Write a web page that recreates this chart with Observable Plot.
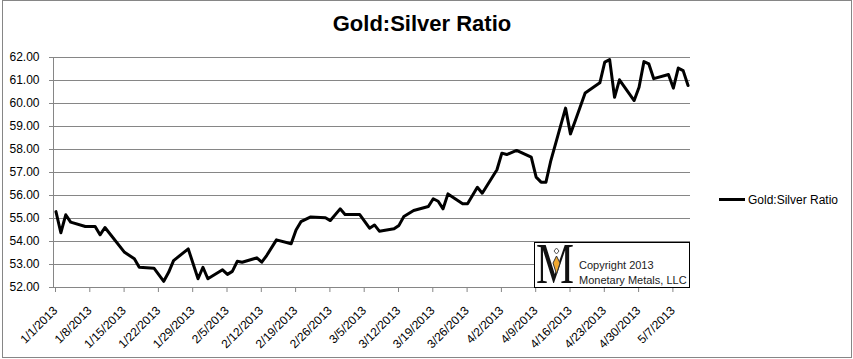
<!DOCTYPE html>
<html><head><meta charset="utf-8">
<script src="https://cdn.jsdelivr.net/npm/d3@7"></script>
<script src="https://cdn.jsdelivr.net/npm/@observablehq/plot@0.6"></script>
<style>
html,body{margin:0;padding:0;background:#fff;}
#wrap{position:relative;width:853px;height:359px;overflow:hidden;font-family:"Liberation Sans",Arial,sans-serif;color:#000;}
#frame{position:absolute;left:2px;top:0;width:850px;height:358px;border:1px solid #868686;box-sizing:border-box;}
#title{position:absolute;left:0;top:11px;width:844px;text-align:center;font-weight:bold;font-size:22px;}
#plot{position:absolute;left:0;top:0;}
#legline{position:absolute;left:719px;top:198px;width:26px;height:3px;background:#000;}
#legtext{position:absolute;left:748px;top:192px;font-size:12px;line-height:16px;}
#copy{position:absolute;left:534px;top:242px;width:156px;height:46px;border:1px solid #000;background:#fff;box-sizing:border-box;overflow:visible;}
</style></head>
<body>
<div id="wrap">
  <div id="frame"></div>
  <div id="plot"></div>
  <div id="title">Gold:Silver Ratio</div>
  <div id="legline"></div>
  <div id="legtext">Gold:Silver Ratio</div>
  <div id="copy">
    <svg width="154" height="44" style="position:absolute;left:0;top:0;overflow:visible">
      <text transform="translate(1,40) scale(0.95,1.25)" font-family="Liberation Serif" font-size="45" fill="#111">M</text>
      <polygon points="21.5,5 24,8 21.5,11 19,8" fill="#fff" stroke="#555" stroke-width="1"/>
      <polygon points="21.5,13 25,20 21.5,31 18,20" fill="#f0a830" stroke="#333" stroke-width="1"/>
      <text x="44" y="26" font-family="Liberation Sans" font-size="11" fill="#222">Copyright 2013</text>
      <text x="44" y="41" font-family="Liberation Sans" font-size="11" fill="#222">Monetary Metals, LLC</text>
    </svg>
  </div>
</div>
<script>
const dates = ["2013-01-01","2013-01-02","2013-01-03","2013-01-04","2013-01-07","2013-01-09","2013-01-10","2013-01-11",
"2013-01-15","2013-01-17","2013-01-18","2013-01-21","2013-01-23","2013-01-24","2013-01-25","2013-01-28","2013-01-30",
"2013-01-31","2013-02-01","2013-02-04","2013-02-05","2013-02-06","2013-02-07","2013-02-08","2013-02-11","2013-02-12",
"2013-02-13","2013-02-15","2013-02-18","2013-02-19","2013-02-20","2013-02-22","2013-02-25","2013-02-26","2013-02-28",
"2013-03-01","2013-03-04","2013-03-06","2013-03-07","2013-03-08","2013-03-11","2013-03-12","2013-03-13","2013-03-15",
"2013-03-18","2013-03-19","2013-03-20","2013-03-21","2013-03-22","2013-03-25","2013-03-26","2013-03-28","2013-03-29",
"2013-04-01","2013-04-02","2013-04-03","2013-04-05","2013-04-08","2013-04-09","2013-04-10","2013-04-11","2013-04-12",
"2013-04-15","2013-04-16","2013-04-17","2013-04-19","2013-04-22","2013-04-23","2013-04-24","2013-04-25","2013-04-26",
"2013-04-29","2013-04-30","2013-05-01","2013-05-02","2013-05-03","2013-05-06","2013-05-07","2013-05-08","2013-05-09","2013-05-10"];
const ratios = [55.30,54.38,55.16,54.84,54.65,54.65,54.29,54.61,
53.53,53.25,52.88,52.84,52.27,52.66,53.17,53.68,52.38,
52.88,52.38,52.77,52.57,52.70,53.14,53.10,53.29,53.10,
53.39,54.07,53.90,54.50,54.86,55.07,55.03,54.91,55.42,
55.17,55.17,54.58,54.72,54.45,54.55,54.70,55.09,55.35,
55.52,55.86,55.75,55.42,56.07,55.64,55.64,56.36,56.10,
57.12,57.84,57.78,57.96,57.67,56.80,56.58,56.58,57.52,
59.80,58.68,59.26,60.46,60.90,61.80,61.91,60.27,61.03,
60.13,60.71,61.82,61.72,61.08,61.26,60.67,61.54,61.43,60.78];
const yTicks = [52,53,54,55,56,57,58,59,60,61,62];
const xTickDates = ["2013-01-01","2013-01-08","2013-01-15","2013-01-22","2013-01-29","2013-02-05","2013-02-12",
"2013-02-19","2013-02-26","2013-03-05","2013-03-12","2013-03-19","2013-03-26","2013-04-02","2013-04-09",
"2013-04-16","2013-04-23","2013-04-30","2013-05-07"];
const xStart = "2013-01-01", xEnd = "2013-05-11";

// each daily value is centred in its day slot
const data = dates.map((d, i) => ({date: new Date(d + "T12:00:00Z"), ratio: ratios[i]}));
const xTicks = xTickDates.map(d => new Date(d + "T00:00:00Z"));
const fmt = d => `${d.getUTCMonth() + 1}/${d.getUTCDate()}/${d.getUTCFullYear()}`;
const x0 = new Date(xStart + "T00:00:00Z"), x1 = new Date(xEnd + "T00:00:00Z");

const chart = Plot.plot({
  width: 853, height: 359,
  marginLeft: 53, marginRight: 163, marginTop: 57, marginBottom: 72,
  style: {fontFamily: "Liberation Sans, Arial, sans-serif", fontSize: "12px", background: "transparent", color: "#000"},
  x: {type: "utc", domain: [x0, x1]},
  y: {domain: [52, 62]},
  marks: [
    Plot.ruleY(yTicks, {stroke: "#868686", strokeWidth: 1, insetLeft: -4}),
    Plot.ruleX([x0], {stroke: "#868686", strokeWidth: 1}),
    Plot.axisY({ticks: yTicks, tickFormat: d => d.toFixed(2), tickSize: 0, tickPadding: 14, fill: "#000", fontSize: 12, label: null}),
    Plot.axisX({ticks: xTicks, tickFormat: fmt, tickSize: 5, stroke: "#868686", fill: "#000", tickRotate: -45, tickPadding: 16, dx: 2, fontSize: 12, label: null}),
    Plot.line(data, {x: "date", y: "ratio", stroke: "#000", strokeWidth: 3, strokeLinejoin: "round", curve: "linear"})
  ]
});
document.getElementById("plot").appendChild(chart);
</script>
</body></html>
